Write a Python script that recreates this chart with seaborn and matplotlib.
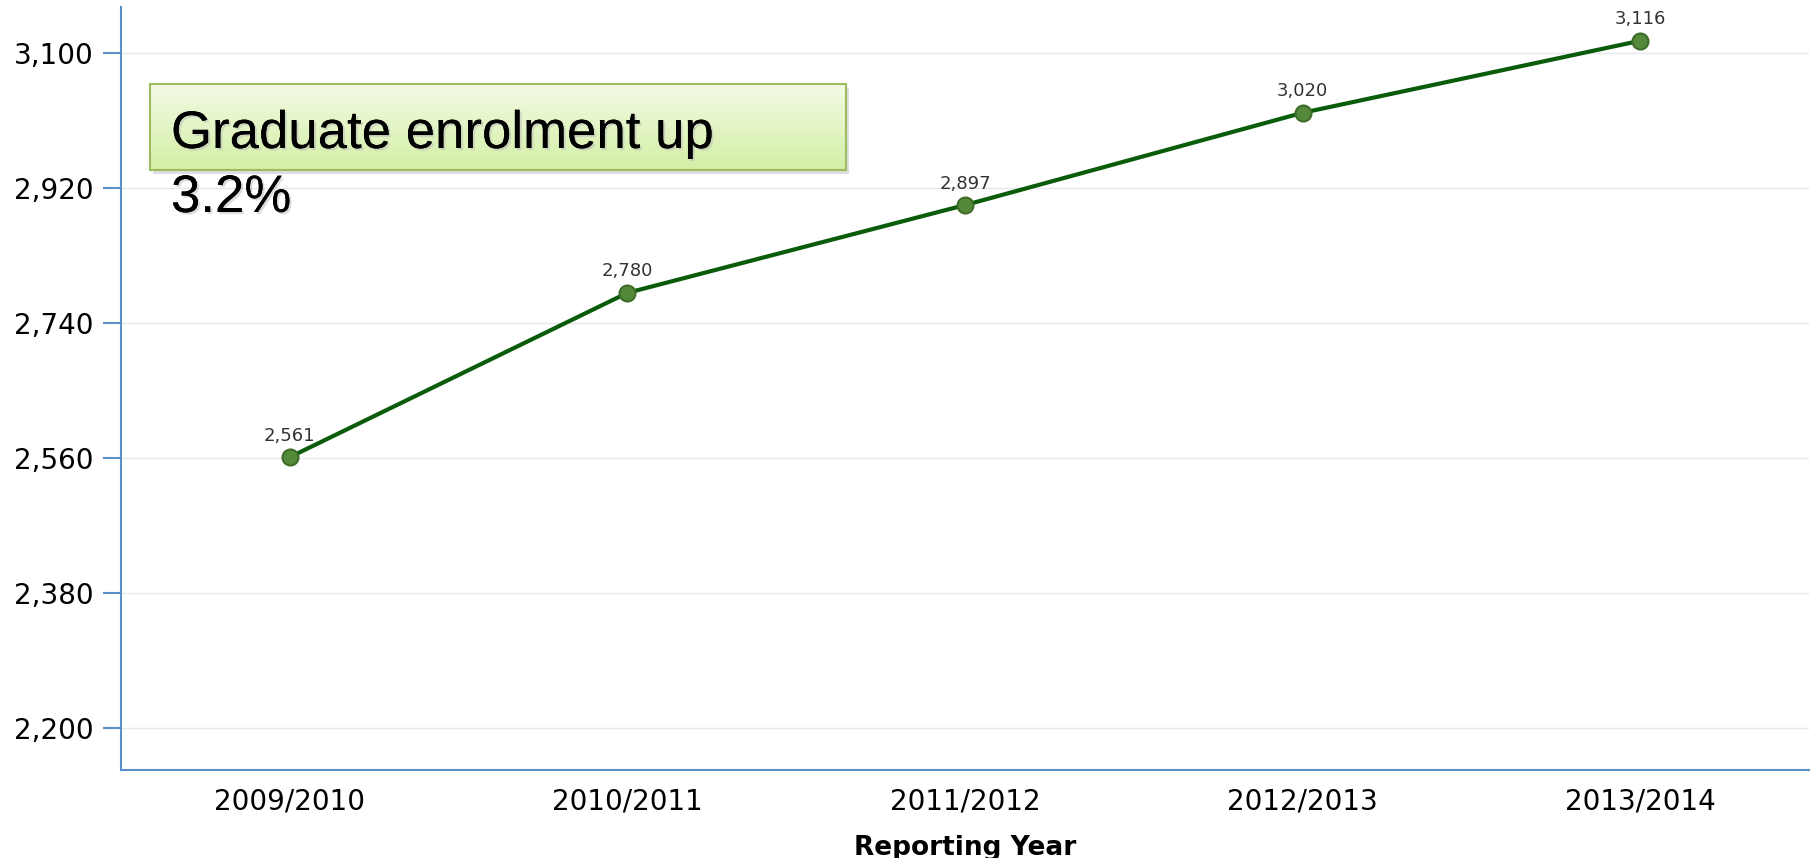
import numpy as np
import pandas as pd
import matplotlib
matplotlib.use("Agg")
import matplotlib.pyplot as plt
import matplotlib.patheffects as pe
from matplotlib.patches import Rectangle
import seaborn as sns

# DATA
years = ["2009/2010", "2010/2011", "2011/2012", "2012/2013", "2013/2014"]
enrolment = [2561, 2780, 2897, 3020, 3116]
yticks = [2200, 2380, 2560, 2740, 2920, 3100]

df = pd.DataFrame({"year": years, "enrolment": enrolment})

sns.set_style("white")
plt.rcParams['font.family'] = ['DejaVu Sans']

W, H = 1813, 858
ax_l, ax_r, ax_t, ax_b = 121, 1809, 7, 770
fig = plt.figure(figsize=(W / 100, H / 100), dpi=100)
ax = fig.add_axes([ax_l / W, 1 - ax_b / H, (ax_r - ax_l) / W, (ax_b - ax_t) / H])

sns.lineplot(data=df, x="year", y="enrolment", ax=ax, color="#0a5c0a", linewidth=3,
             marker="o", markersize=11.5, markerfacecolor="#55893a",
             markeredgecolor="#3e6c29", markeredgewidth=1.5, sort=False, zorder=4)

for i, v in enumerate(enrolment):
    ax.annotate(f"{v:,}", (i, v), xytext=(0, 9), textcoords="offset points",
                ha="center", va="bottom", fontsize=13, color="#333333")

ax.set_xlim(-0.5, len(years) - 0.5)
ax.set_ylim(2144, 3161)
ax.set_yticks(yticks)
ax.set_yticklabels([f"{t:,}" for t in yticks], fontsize=20)
ax.tick_params(axis="y", left=True, length=13, width=1.5, color="#5b8fc7",
               direction="out", pad=7, labelcolor="black")
ax.tick_params(axis="x", labelsize=20, bottom=False, pad=9, labelcolor="black")
ax.yaxis.grid(True, color="#e6e6ef", linewidth=1)
for s in ["top", "right"]:
    ax.spines[s].set_visible(False)
for s in ["left", "bottom"]:
    ax.spines[s].set_edgecolor("#5b8fc7")
    ax.spines[s].set_linewidth(1.5)
ax.set_xlabel("Reporting Year", fontsize=19, fontweight="bold", labelpad=14, color="black")
ax.set_ylabel("")

# callout box (gradient + shadow), placed in axes-fraction coordinates
bx0, bx1, by0, by1 = 150, 846, 84, 170
fx0 = (bx0 - ax_l) / (ax_r - ax_l)
fx1 = (bx1 - ax_l) / (ax_r - ax_l)
fy1 = (ax_b - by0) / (ax_b - ax_t)
fy0 = (ax_b - by1) / (ax_b - ax_t)
dx = 3 / (ax_r - ax_l)
dy = 4 / (ax_b - ax_t)

ax.add_patch(Rectangle((fx0 + dx, fy0 - dy), fx1 - fx0, fy1 - fy0, transform=ax.transAxes,
                       facecolor="#c8c8c8", edgecolor="none", alpha=0.6, zorder=5))
cmap = matplotlib.colors.LinearSegmentedColormap.from_list("g", ["#f3fbe4", "#d3efa6"])
grad = np.linspace(0, 1, 100).reshape(-1, 1)
ax.imshow(grad, cmap=cmap, aspect="auto", origin="upper", extent=[fx0, fx1, fy0, fy1],
          transform=ax.transAxes, zorder=6, interpolation="bilinear")
ax.add_patch(Rectangle((fx0, fy0), fx1 - fx0, fy1 - fy0, transform=ax.transAxes,
                       facecolor="none", edgecolor="#9dbb61", linewidth=1.5, zorder=7))
ax.set_xlim(-0.5, len(years) - 0.5)
ax.set_ylim(2144, 3161)
ax.set_aspect("auto")

shadow_fx = [pe.withSimplePatchShadow(offset=(1.5, -1.5), shadow_rgbFace="#bbbbbb", alpha=0.5), pe.Normal()]
fig.text(171 / W, 1 - 148 / H, "Graduate enrolment up", fontsize=38, family="Liberation Sans",
         color="black", va="baseline", path_effects=shadow_fx, zorder=10)
fig.text(171 / W, 1 - 212 / H, "3.2%", fontsize=38, family="Liberation Sans",
         color="black", va="baseline", path_effects=shadow_fx, zorder=10)

fig.savefig("out.png", dpi=100)
